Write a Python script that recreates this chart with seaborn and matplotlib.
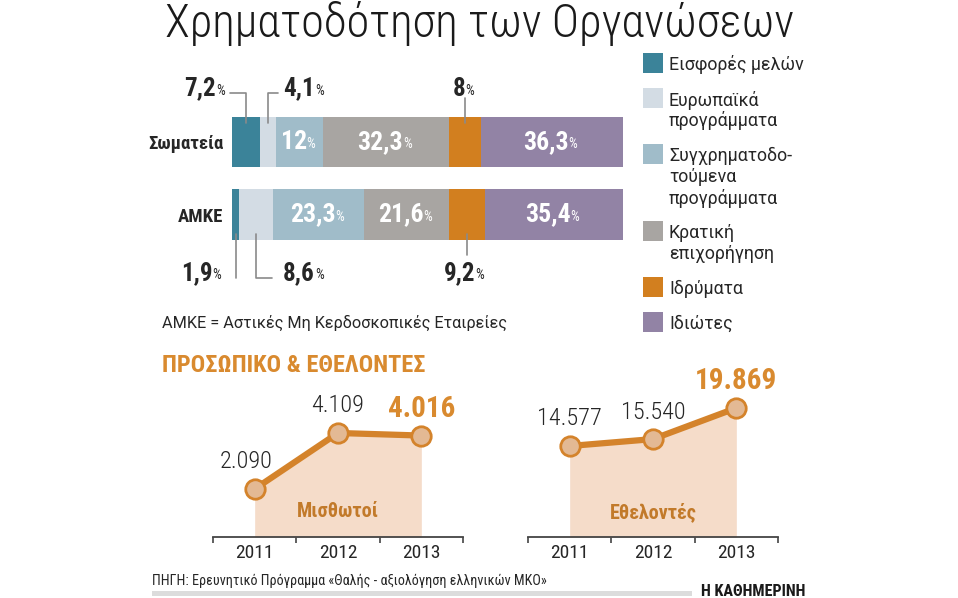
import numpy as np
import pandas as pd
import matplotlib
matplotlib.use("Agg")
import matplotlib.pyplot as plt
import matplotlib.transforms as mtransforms
import seaborn as sns
from matplotlib import font_manager
from matplotlib.patches import Rectangle
from matplotlib.lines import Line2D

# ---------------- data ----------------
groups = ["Σωματεία", "ΑΜΚΕ"]
sources = ["Εισφορές μελών", "Ευρωπαϊκά προγράμματα", "Συγχρηματοδοτούμενα προγράμματα",
           "Κρατική επιχορήγηση", "Ιδρύματα", "Ιδιώτες"]
legend_labels = ["Εισφορές μελών", "Ευρωπαϊκά\nπρογράμματα", "Συγχρηματοδο-\nτούμενα\nπρογράμματα",
                 "Κρατική\nεπιχορήγηση", "Ιδρύματα", "Ιδιώτες"]
somateia = [7.2, 4.1, 12, 32.3, 8, 36.3]
amke = [1.9, 8.6, 23.3, 21.6, 9.2, 35.4]
years = [2011, 2012, 2013]
misthotoi = [2090, 4109, 4016]
ethelontes = [14577, 15540, 19869]

title = "Χρηματοδότηση των Οργανώσεων"
subtitle = "ΠΡΟΣΩΠΙΚΟ & ΕΘΕΛΟΝΤΕΣ"
footnote = "ΑΜΚΕ = Αστικές Μη Κερδοσκοπικές Εταιρείες"
source_txt = "ΠΗΓΗ: Ερευνητικό Πρόγραμμα «Θαλής - αξιολόγηση ελληνικών ΜΚΟ»"
brand = "Η ΚΑΘΗΜΕΡΙΝΗ"
panel_names = ["Μισθωτοί", "Εθελοντές"]

# ---------------- style ----------------
colors = ["#3B8399", "#D3DCE4", "#A0BCC9", "#A8A5A2", "#D27F1F", "#9283A5"]
ORANGE = "#D4832B"
ORANGE_TXT = "#D98A2F"
BROWN_TXT = "#C27A2A"
FILL = "#F5DCC9"
MFACE = "#E3B994"
DARK = "#262626"
LEADER = "#8A8A8A"

sns.set_theme(style="white")
names = {f.name for f in font_manager.fontManager.ttflist}


def pick(cands):
    for c in cands:
        if c in names:
            return c
    return "DejaVu Sans"


COND = pick(["Roboto Condensed", "Liberation Sans Narrow", "Roboto", "Open Sans"])
BODY = pick(["Roboto", "Open Sans", "Noto Sans"])
plt.rcParams["font.family"] = [BODY, "DejaVu Sans"]

W, H = 958, 598
fig = plt.figure(figsize=(W / 100, H / 100), dpi=100)
fig.patch.set_facecolor("white")


def px_axes(x0, y0, x1, y1, **kw):
    return fig.add_axes([x0 / W, (H - y1) / H, (x1 - x0) / W, (y1 - y0) / H], **kw)


# ---------------- stacked bars (seaborn) ----------------
ax_bar = px_axes(232, 60, 623, 300)
rows = []
for g, vals in zip(groups, [somateia, amke]):
    cum = np.cumsum(vals)
    for s, v, c in zip(sources, vals, cum):
        rows.append({"group": g, "source": s, "value": v, "cum": c, "start": c - v})
df = pd.DataFrame(rows)

for s, col in reversed(list(zip(sources, colors))):
    sub = df[df["source"] == s]
    sns.barplot(data=sub, x="cum", y="group", order=groups, color=col, saturation=1,
                width=0.7, linewidth=0, errorbar=None, orient="h", ax=ax_bar)

ax_bar.set_xlim(0, 100)
ax_bar.set_ylim(2.179, -1.131)
ax_bar.set_xlabel("")
ax_bar.set_ylabel("")
ax_bar.set_xticks([])
for sp in ax_bar.spines.values():
    sp.set_visible(False)
ax_bar.tick_params(axis="y", length=0, pad=6)
for lab in ax_bar.get_yticklabels():
    lab.set_fontweight("bold")
    lab.set_fontsize(13.5)
    lab.set_color(DARK)
    lab.set_family([COND, "DejaVu Sans"])
ax_bar.patch.set_alpha(0)

# ---------------- line panels (seaborn) ----------------
panels = [
    (px_axes(213, 380, 463, 537), misthotoi, (359, 6019), panel_names[0]),
    (px_axes(528, 380, 778, 537), ethelontes, (1903, 23769), panel_names[1]),
]
for ax, vals, ylim, pname in panels:
    ax.patch.set_alpha(0)
    ax.fill_between(years, vals, ylim[0], color=FILL, lw=0, zorder=1)
    sns.lineplot(x=years, y=vals, ax=ax, color=ORANGE, lw=4.5, marker="o", markersize=14,
                 markerfacecolor=MFACE, markeredgecolor=ORANGE, markeredgewidth=2, zorder=3)
    ax.set_xlim(2010.5, 2013.5)
    ax.set_ylim(*ylim)
    ax.set_yticks([])
    ax.set_xticks(years)
    ax.set_xticklabels([str(y) for y in years])
    ax.set_xticks([y - 0.5 for y in years] + [years[-1] + 0.5], minor=True)
    ax.tick_params(axis="x", which="major", length=0, pad=5, labelsize=14, labelcolor=DARK)
    ax.tick_params(axis="x", which="minor", length=4.5, width=1.2, color="#444444", direction="out", bottom=True)
    for lab in ax.get_xticklabels():
        lab.set_family([COND, "DejaVu Sans"])
    for side in ["top", "right", "left"]:
        ax.spines[side].set_visible(False)
    ax.spines["bottom"].set_color("#444444")
    ax.spines["bottom"].set_linewidth(1.3)
    ax.set_xlabel("")
    ax.set_ylabel("")
    for i, (yr, v) in enumerate(zip(years, vals)):
        txt = f"{v:,}".replace(",", ".")
        last = i == len(years) - 1
        dx = -8 if (i == 0 and vals is misthotoi) else 0
        ax.annotate(txt, (yr, v), xytext=(dx, 27), textcoords="offset pixels",
                    ha="center", va="center",
                    fontsize=21 if last else 17.5, fontweight="bold" if last else "light",
                    color=ORANGE_TXT if last else DARK, family=[COND, "DejaVu Sans"], zorder=5)
    ax.text(years[1], 0.16, pname, transform=mtransforms.blended_transform_factory(ax.transData, ax.transAxes),
            ha="center", va="center", fontsize=14.5, fontweight="bold", color=BROWN_TXT,
            family=[COND, "DejaVu Sans"], zorder=5)

# ---------------- overlay (pixel coordinates, y down) ----------------
ov = fig.add_axes([0, 0, 1, 1], zorder=10)
ov.set_xlim(0, W)
ov.set_ylim(H, 0)
ov.axis("off")
ov.patch.set_alpha(0)


def to_px(ax, x, y):
    return ov.transData.inverted().transform(ax.transData.transform((x, y)))


def pct_label(x, y, num, ha, color, size, psize):
    t = ov.text(x, y, num, ha=ha, va="center", fontsize=size, fontweight="bold", color=color,
                family=[COND, "DejaVu Sans"], zorder=6)
    ov.annotate("%", xy=(1, 0), xycoords=t, xytext=(0, 3), textcoords="offset pixels",
                ha="left", va="bottom", fontsize=psize, color=color,
                family=[COND, "DejaVu Sans"], zorder=6)
    return t


def fmt(v):
    return f"{v:g}".replace(".", ",")


# leader layout for the small shares: path offsets (px, y down) and label offset/alignment
leaders = {
    (0, 0): ([(0, 6), (0, -24), (-16, -24)], (-18, -28), "right"),
    (0, 1): ([(0, 6), (0, -24), (10, -24)], (15, -28), "left"),
    (0, 4): ([(0, 6), (0, -19)], (-6, -28), "center"),
    (1, 0): ([(0, -6), (0, 38)], (-11, 33), "right"),
    (1, 1): ([(0, -6), (0, 38), (16, 38)], (27, 33), "left"),
    (1, 4): ([(0, -6), (0, 15)], (-7, 33), "center"),
}

for gi, g in enumerate(groups):
    sub = df[df["group"] == g].reset_index(drop=True)
    for si, r in sub.iterrows():
        cx = r["start"] + r["value"] / 2
        if (gi, si) in leaders:
            path, (tx, ty), ha = leaders[(gi, si)]
            edge = gi - 0.35 if gi == 0 else gi + 0.35
            ax_, ay_ = to_px(ax_bar, cx, edge)
            xs = [ax_ + p[0] for p in path]
            ys = [ay_ + p[1] for p in path]
            ov.add_line(Line2D(xs, ys, color=LEADER, lw=1.2, zorder=5))
            if ha == "right":
                # leave room for the % sign after the number
                pct_label(ax_ + tx - 12, ay_ + ty, fmt(r["value"]), "right", DARK, 18, 10)
            else:
                pct_label(ax_ + tx, ay_ + ty, fmt(r["value"]), ha, DARK, 18, 10)
        else:
            px_, py_ = to_px(ax_bar, cx, gi)
            pct_label(px_ - 6, py_, fmt(r["value"]), "center", "white", 18.5, 10)

# legend
leg_texts = []
top = 53
for lab, col in zip(legend_labels, colors):
    ov.add_patch(Rectangle((643, top), 20, 20, facecolor=col, edgecolor="none"))
    lines = lab.split("\n")
    for k, ln in enumerate(lines):
        leg_texts.append(ov.text(669, top + 12 + 21 * k, ln, ha="left", va="center",
                                 fontsize=12, color=DARK, family=[BODY, "DejaVu Sans"]))
    top += 21 * len(lines) + 14

# texts
t_title = ov.text(480, 37, title, ha="center", va="baseline", fontsize=34, color="#1a1a1a",
                  fontweight="light", family=[COND, "DejaVu Sans"])
t_foot = ov.text(162, 323, footnote, ha="left", va="center", fontsize=12, color=DARK,
                 family=[BODY, "DejaVu Sans"])
t_sub = ov.text(162, 366, subtitle, ha="left", va="center", fontsize=17, color=ORANGE_TXT,
                fontweight="bold", family=[COND, "DejaVu Sans"])
t_src = ov.text(152, 581, source_txt, ha="left", va="center", fontsize=10, color=DARK,
                family=[COND, "DejaVu Sans"])
ov.add_patch(Rectangle((152, 591), 540, 5, facecolor="#DCDCDC", edgecolor="none"))
t_brand = ov.text(805, 591, brand, ha="right", va="center", fontsize=11, color="#1a1a1a",
                  fontweight="bold", family=[COND, "DejaVu Sans"])

# fit a few texts to the widths measured on the reference
fig.canvas.draw()
r = fig.canvas.get_renderer()


def fit(t, target):
    w = t.get_window_extent(r).width
    t.set_fontsize(t.get_fontsize() * target / w)


fit(t_title, 630)
fit(t_foot, 343)
fit(t_sub, 265)
fit(t_src, 392)
fit(t_brand, 105)
w0 = leg_texts[0].get_window_extent(r).width
for t in leg_texts:
    t.set_fontsize(t.get_fontsize() * 134 / w0)

fig.savefig("out.png", dpi=100, facecolor="white")
